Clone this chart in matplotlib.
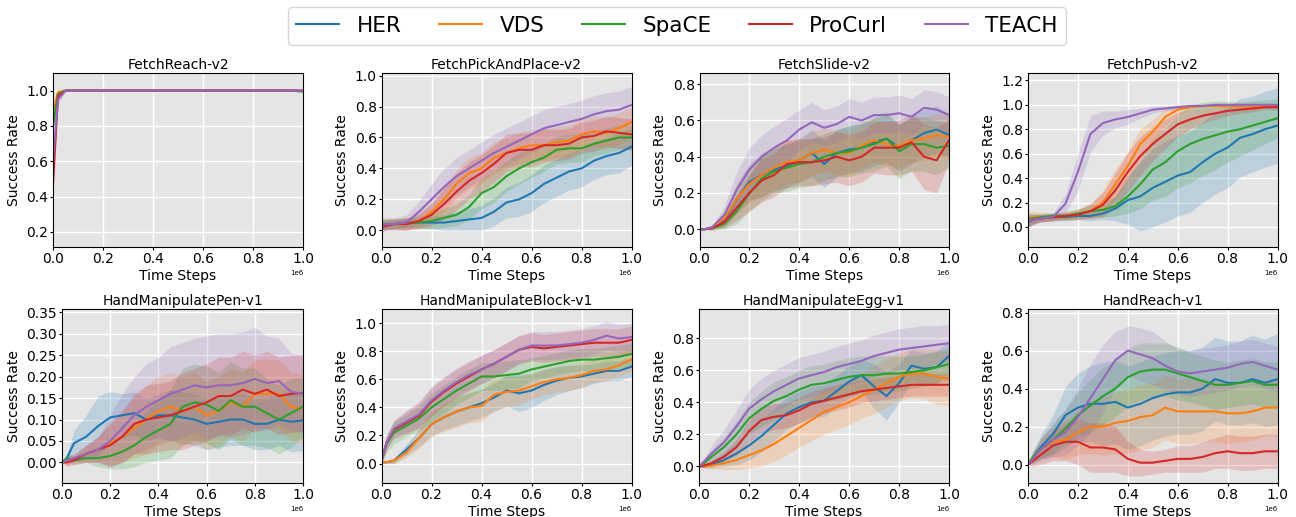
import numpy as np
import matplotlib.pyplot as plt
from matplotlib.ticker import MultipleLocator

# ------------------------------------------------------------
# data (x in units of 1e6 time steps)
# ------------------------------------------------------------
steps = [0.0, 0.02, 0.05, 0.10, 0.15, 0.20, 0.25, 0.30, 0.35, 0.40, 0.45,
         0.50, 0.55, 0.60, 0.65, 0.70, 0.75, 0.80, 0.85, 0.90, 0.95, 1.00]

methods = ['HER', 'VDS', 'SpaCE', 'ProCurl', 'TEACH']
colors = ['#1f77b4', '#ff7f0e', '#2ca02c', '#d62728', '#9467bd']

envs = ['FetchReach-v2', 'FetchPickAndPlace-v2', 'FetchSlide-v2', 'FetchPush-v2',
        'HandManipulatePen-v1', 'HandManipulateBlock-v1', 'HandManipulateEgg-v1', 'HandReach-v1']

# FetchReach-v2
reach_mean = {
    'HER':     [0.85, 0.98] + [1.0] * 20,
    'VDS':     [0.88, 0.99] + [1.0] * 20,
    'SpaCE':   [0.80, 0.98] + [1.0] * 19 + [0.995],
    'ProCurl': [0.47, 0.97] + [1.0] * 20,
    'TEACH':   [0.60, 0.95] + [1.0] * 20,
}
reach_std = {
    'HER':     [0.05, 0.02] + [0.003] * 20,
    'VDS':     [0.05, 0.02] + [0.003] * 20,
    'SpaCE':   [0.05, 0.02] + [0.003] * 20,
    'ProCurl': [0.05, 0.02] + [0.003] * 20,
    'TEACH':   [0.05, 0.03] + [0.003] * 20,
}

# FetchPickAndPlace-v2
pick_mean = {
    'HER':     [0.03, 0.04, 0.04, 0.05, 0.05, 0.05, 0.05, 0.06, 0.07, 0.08, 0.12, 0.18, 0.20, 0.24, 0.30, 0.34, 0.38, 0.40, 0.45, 0.48, 0.50, 0.54],
    'VDS':     [0.04, 0.04, 0.04, 0.04, 0.06, 0.12, 0.20, 0.30, 0.37, 0.40, 0.47, 0.50, 0.53, 0.55, 0.55, 0.57, 0.58, 0.62, 0.64, 0.63, 0.66, 0.70],
    'SpaCE':   [0.04, 0.04, 0.04, 0.045, 0.05, 0.06, 0.08, 0.10, 0.15, 0.24, 0.28, 0.35, 0.40, 0.44, 0.47, 0.52, 0.53, 0.53, 0.56, 0.58, 0.60, 0.60],
    'ProCurl': [0.02, 0.03, 0.04, 0.04, 0.06, 0.10, 0.17, 0.25, 0.32, 0.37, 0.43, 0.50, 0.52, 0.52, 0.55, 0.55, 0.56, 0.60, 0.61, 0.64, 0.63, 0.62],
    'TEACH':   [0.03, 0.04, 0.04, 0.05, 0.12, 0.20, 0.28, 0.35, 0.40, 0.45, 0.50, 0.54, 0.58, 0.62, 0.66, 0.68, 0.70, 0.72, 0.75, 0.77, 0.78, 0.81],
}
pick_std = {
    'HER':     [0.03, 0.03, 0.03, 0.03, 0.03, 0.04, 0.05, 0.06, 0.07, 0.08, 0.09, 0.10, 0.11, 0.12, 0.12, 0.12, 0.12, 0.12, 0.12, 0.12, 0.13, 0.12],
    'VDS':     [0.04, 0.04, 0.04, 0.04, 0.04, 0.06, 0.08, 0.09, 0.10, 0.10, 0.10, 0.10, 0.10, 0.10, 0.10, 0.10, 0.10, 0.10, 0.10, 0.10, 0.10, 0.10],
    'SpaCE':   [0.03, 0.03, 0.03, 0.03, 0.04, 0.05, 0.06, 0.07, 0.08, 0.10, 0.10, 0.10, 0.10, 0.10, 0.09, 0.09, 0.09, 0.09, 0.08, 0.08, 0.08, 0.08],
    'ProCurl': [0.03, 0.03, 0.03, 0.04, 0.05, 0.07, 0.10, 0.12, 0.12, 0.12, 0.12, 0.12, 0.11, 0.11, 0.11, 0.10, 0.10, 0.10, 0.10, 0.10, 0.10, 0.10],
    'TEACH':   [0.04, 0.04, 0.04, 0.05, 0.07, 0.10, 0.12, 0.12, 0.12, 0.12, 0.12, 0.12, 0.12, 0.12, 0.12, 0.12, 0.12, 0.12, 0.12, 0.12, 0.12, 0.12],
}

# FetchSlide-v2
slide_mean = {
    'HER':     [0.0, 0.0, 0.01, 0.05, 0.17, 0.26, 0.30, 0.33, 0.35, 0.38, 0.42, 0.36, 0.42, 0.44, 0.45, 0.48, 0.50, 0.45, 0.49, 0.53, 0.55, 0.52],
    'VDS':     [0.0, 0.0, 0.01, 0.06, 0.17, 0.25, 0.30, 0.34, 0.37, 0.38, 0.42, 0.44, 0.42, 0.42, 0.46, 0.49, 0.47, 0.46, 0.49, 0.50, 0.52, 0.51],
    'SpaCE':   [0.0, 0.0, 0.005, 0.03, 0.10, 0.20, 0.28, 0.32, 0.34, 0.36, 0.37, 0.40, 0.42, 0.43, 0.45, 0.47, 0.50, 0.43, 0.47, 0.47, 0.45, 0.46],
    'ProCurl': [0.0, 0.0, 0.005, 0.04, 0.12, 0.20, 0.27, 0.30, 0.36, 0.37, 0.37, 0.38, 0.40, 0.38, 0.40, 0.45, 0.45, 0.45, 0.48, 0.40, 0.38, 0.49],
    'TEACH':   [0.0, 0.0, 0.01, 0.08, 0.22, 0.33, 0.40, 0.45, 0.49, 0.55, 0.59, 0.56, 0.58, 0.62, 0.60, 0.63, 0.63, 0.64, 0.62, 0.67, 0.66, 0.63],
}
slide_std = {
    'HER':     [0.0, 0.0, 0.01, 0.04, 0.08, 0.10, 0.12, 0.12, 0.12, 0.12, 0.13, 0.13, 0.13, 0.13, 0.13, 0.13, 0.13, 0.13, 0.13, 0.13, 0.13, 0.12],
    'VDS':     [0.0, 0.0, 0.01, 0.04, 0.08, 0.10, 0.12, 0.12, 0.12, 0.12, 0.12, 0.12, 0.12, 0.12, 0.12, 0.12, 0.12, 0.12, 0.12, 0.12, 0.12, 0.12],
    'SpaCE':   [0.0, 0.0, 0.01, 0.03, 0.07, 0.10, 0.12, 0.12, 0.13, 0.13, 0.13, 0.13, 0.13, 0.14, 0.14, 0.15, 0.15, 0.15, 0.15, 0.15, 0.15, 0.12],
    'ProCurl': [0.0, 0.0, 0.01, 0.03, 0.07, 0.10, 0.12, 0.12, 0.13, 0.13, 0.13, 0.13, 0.14, 0.14, 0.14, 0.14, 0.15, 0.15, 0.16, 0.18, 0.18, 0.12],
    'TEACH':   [0.0, 0.0, 0.01, 0.05, 0.10, 0.12, 0.12, 0.12, 0.12, 0.11, 0.11, 0.10, 0.10, 0.10, 0.10, 0.10, 0.10, 0.10, 0.10, 0.10, 0.10, 0.10],
}

# FetchPush-v2
push_mean = {
    'HER':     [0.04, 0.06, 0.07, 0.08, 0.08, 0.09, 0.09, 0.11, 0.15, 0.22, 0.25, 0.32, 0.37, 0.42, 0.45, 0.53, 0.60, 0.65, 0.73, 0.76, 0.80, 0.83],
    'VDS':     [0.06, 0.08, 0.08, 0.08, 0.09, 0.10, 0.13, 0.20, 0.35, 0.50, 0.68, 0.78, 0.90, 0.96, 0.98, 0.99, 0.99, 0.99, 0.99, 0.99, 0.99, 0.99],
    'SpaCE':   [0.06, 0.07, 0.08, 0.09, 0.09, 0.11, 0.13, 0.14, 0.17, 0.25, 0.35, 0.47, 0.53, 0.62, 0.68, 0.72, 0.75, 0.78, 0.80, 0.83, 0.86, 0.89],
    'ProCurl': [0.05, 0.06, 0.07, 0.08, 0.09, 0.10, 0.13, 0.18, 0.30, 0.45, 0.58, 0.68, 0.76, 0.84, 0.88, 0.91, 0.93, 0.95, 0.96, 0.97, 0.98, 0.98],
    'TEACH':   [0.05, 0.06, 0.07, 0.08, 0.19, 0.45, 0.76, 0.85, 0.88, 0.90, 0.93, 0.96, 0.97, 0.98, 0.99, 0.99, 1.0, 1.0, 1.0, 1.0, 1.0, 1.0],
}
push_std = {
    'HER':     [0.05, 0.04, 0.03, 0.03, 0.03, 0.03, 0.04, 0.05, 0.10, 0.20, 0.28, 0.32, 0.33, 0.33, 0.33, 0.33, 0.33, 0.33, 0.32, 0.31, 0.31, 0.31],
    'VDS':     [0.06, 0.05, 0.04, 0.03, 0.03, 0.04, 0.06, 0.10, 0.12, 0.12, 0.12, 0.10, 0.07, 0.04, 0.02, 0.02, 0.01, 0.01, 0.01, 0.01, 0.01, 0.01],
    'SpaCE':   [0.05, 0.04, 0.03, 0.03, 0.03, 0.04, 0.05, 0.06, 0.08, 0.14, 0.20, 0.25, 0.28, 0.30, 0.32, 0.30, 0.28, 0.25, 0.22, 0.20, 0.18, 0.16],
    'ProCurl': [0.05, 0.04, 0.03, 0.03, 0.03, 0.04, 0.06, 0.10, 0.14, 0.16, 0.16, 0.14, 0.12, 0.10, 0.08, 0.06, 0.05, 0.04, 0.03, 0.03, 0.02, 0.02],
    'TEACH':   [0.05, 0.04, 0.03, 0.03, 0.08, 0.15, 0.15, 0.10, 0.07, 0.06, 0.04, 0.03, 0.02, 0.02, 0.01, 0.01, 0.01, 0.01, 0.01, 0.01, 0.01, 0.01],
}

# HandManipulatePen-v1
pen_mean = {
    'HER':     [0.0, 0.01, 0.045, 0.06, 0.085, 0.105, 0.11, 0.115, 0.10, 0.11, 0.11, 0.105, 0.10, 0.09, 0.095, 0.10, 0.10, 0.09, 0.09, 0.10, 0.095, 0.098],
    'VDS':     [0.0, 0.005, 0.01, 0.02, 0.03, 0.045, 0.06, 0.08, 0.10, 0.12, 0.13, 0.12, 0.13, 0.11, 0.12, 0.14, 0.13, 0.16, 0.16, 0.16, 0.13, 0.125],
    'SpaCE':   [0.0, 0.01, 0.005, 0.01, 0.01, 0.015, 0.025, 0.04, 0.06, 0.075, 0.09, 0.13, 0.14, 0.135, 0.12, 0.145, 0.13, 0.13, 0.115, 0.10, 0.115, 0.13],
    'ProCurl': [0.0, 0.0, 0.005, 0.02, 0.03, 0.04, 0.06, 0.09, 0.10, 0.105, 0.11, 0.12, 0.13, 0.14, 0.155, 0.155, 0.17, 0.16, 0.17, 0.155, 0.16, 0.162],
    'TEACH':   [0.0, 0.005, 0.01, 0.02, 0.03, 0.05, 0.08, 0.11, 0.13, 0.145, 0.16, 0.17, 0.18, 0.175, 0.18, 0.18, 0.185, 0.195, 0.185, 0.19, 0.165, 0.16],
}
pen_std = {
    'HER':     [0.0, 0.01, 0.03, 0.05, 0.07, 0.06, 0.05, 0.05, 0.05, 0.05, 0.06, 0.06, 0.06, 0.06, 0.06, 0.06, 0.06, 0.06, 0.06, 0.06, 0.07, 0.07],
    'VDS':     [0.0, 0.01, 0.01, 0.02, 0.03, 0.05, 0.06, 0.07, 0.08, 0.08, 0.08, 0.08, 0.08, 0.08, 0.08, 0.08, 0.08, 0.08, 0.08, 0.08, 0.08, 0.08],
    'SpaCE':   [0.0, 0.01, 0.01, 0.01, 0.02, 0.03, 0.04, 0.05, 0.06, 0.07, 0.08, 0.09, 0.09, 0.09, 0.09, 0.09, 0.09, 0.09, 0.08, 0.08, 0.08, 0.07],
    'ProCurl': [0.0, 0.01, 0.01, 0.02, 0.03, 0.05, 0.06, 0.07, 0.08, 0.08, 0.08, 0.09, 0.09, 0.09, 0.09, 0.09, 0.09, 0.09, 0.09, 0.09, 0.09, 0.09],
    'TEACH':   [0.0, 0.01, 0.01, 0.02, 0.03, 0.06, 0.08, 0.09, 0.10, 0.10, 0.11, 0.11, 0.11, 0.12, 0.12, 0.12, 0.12, 0.12, 0.11, 0.10, 0.09, 0.09],
}

# HandManipulateBlock-v1
block_mean = {
    'HER':     [0.01, 0.01, 0.02, 0.10, 0.18, 0.28, 0.33, 0.37, 0.40, 0.43, 0.47, 0.52, 0.50, 0.52, 0.56, 0.59, 0.61, 0.62, 0.64, 0.66, 0.66, 0.69],
    'VDS':     [0.01, 0.01, 0.02, 0.08, 0.18, 0.28, 0.33, 0.37, 0.40, 0.41, 0.49, 0.51, 0.52, 0.55, 0.58, 0.60, 0.61, 0.63, 0.66, 0.67, 0.70, 0.74],
    'SpaCE':   [0.02, 0.14, 0.22, 0.27, 0.32, 0.40, 0.46, 0.52, 0.57, 0.62, 0.62, 0.63, 0.64, 0.67, 0.69, 0.71, 0.73, 0.74, 0.74, 0.75, 0.76, 0.78],
    'ProCurl': [0.02, 0.15, 0.24, 0.29, 0.34, 0.44, 0.51, 0.57, 0.62, 0.67, 0.71, 0.76, 0.81, 0.83, 0.82, 0.83, 0.84, 0.85, 0.86, 0.86, 0.86, 0.88],
    'TEACH':   [0.02, 0.15, 0.25, 0.30, 0.35, 0.45, 0.52, 0.58, 0.63, 0.67, 0.71, 0.76, 0.81, 0.84, 0.84, 0.84, 0.85, 0.86, 0.88, 0.91, 0.89, 0.90],
}
block_std = {
    'HER':     [0.01, 0.01, 0.02, 0.04, 0.06, 0.08, 0.09, 0.10, 0.10, 0.10, 0.10, 0.11, 0.13, 0.12, 0.11, 0.10, 0.09, 0.08, 0.07, 0.07, 0.07, 0.07],
    'VDS':     [0.01, 0.01, 0.02, 0.04, 0.07, 0.09, 0.10, 0.11, 0.11, 0.11, 0.11, 0.11, 0.10, 0.09, 0.09, 0.09, 0.09, 0.09, 0.08, 0.08, 0.08, 0.08],
    'SpaCE':   [0.02, 0.06, 0.08, 0.08, 0.09, 0.10, 0.10, 0.10, 0.10, 0.10, 0.10, 0.10, 0.10, 0.08, 0.08, 0.08, 0.08, 0.08, 0.08, 0.08, 0.08, 0.08],
    'ProCurl': [0.02, 0.05, 0.06, 0.08, 0.09, 0.10, 0.10, 0.10, 0.10, 0.10, 0.10, 0.10, 0.10, 0.10, 0.10, 0.10, 0.10, 0.10, 0.10, 0.10, 0.10, 0.10],
    'TEACH':   [0.02, 0.05, 0.06, 0.08, 0.09, 0.10, 0.10, 0.10, 0.10, 0.10, 0.10, 0.10, 0.10, 0.10, 0.10, 0.10, 0.10, 0.10, 0.10, 0.10, 0.10, 0.10],
}

# HandManipulateEgg-v1
egg_mean = {
    'HER':     [0.0, 0.0, 0.01, 0.04, 0.08, 0.13, 0.19, 0.26, 0.33, 0.37, 0.40, 0.41, 0.47, 0.53, 0.57, 0.50, 0.44, 0.52, 0.63, 0.61, 0.62, 0.69],
    'VDS':     [0.0, 0.0, 0.005, 0.02, 0.04, 0.07, 0.10, 0.14, 0.19, 0.24, 0.29, 0.34, 0.37, 0.40, 0.44, 0.48, 0.52, 0.56, 0.58, 0.58, 0.56, 0.55],
    'SpaCE':   [0.0, 0.02, 0.06, 0.12, 0.20, 0.30, 0.36, 0.41, 0.44, 0.48, 0.51, 0.52, 0.54, 0.56, 0.57, 0.57, 0.58, 0.58, 0.59, 0.60, 0.62, 0.64],
    'ProCurl': [0.0, 0.005, 0.02, 0.06, 0.12, 0.22, 0.29, 0.31, 0.32, 0.35, 0.39, 0.41, 0.43, 0.45, 0.47, 0.48, 0.49, 0.50, 0.51, 0.51, 0.51, 0.51],
    'TEACH':   [0.0, 0.03, 0.08, 0.15, 0.25, 0.36, 0.42, 0.47, 0.51, 0.55, 0.57, 0.59, 0.62, 0.64, 0.66, 0.69, 0.71, 0.73, 0.74, 0.75, 0.76, 0.77],
}
egg_std = {
    'HER':     [0.0, 0.01, 0.02, 0.04, 0.07, 0.09, 0.10, 0.10, 0.10, 0.10, 0.10, 0.10, 0.10, 0.10, 0.10, 0.14, 0.15, 0.12, 0.10, 0.10, 0.10, 0.10],
    'VDS':     [0.0, 0.01, 0.02, 0.04, 0.06, 0.08, 0.10, 0.11, 0.12, 0.12, 0.13, 0.14, 0.14, 0.14, 0.14, 0.15, 0.15, 0.15, 0.15, 0.16, 0.17, 0.17],
    'SpaCE':   [0.0, 0.02, 0.04, 0.06, 0.08, 0.10, 0.11, 0.12, 0.12, 0.12, 0.12, 0.12, 0.12, 0.12, 0.12, 0.12, 0.11, 0.11, 0.10, 0.10, 0.10, 0.10],
    'ProCurl': [0.0, 0.01, 0.02, 0.03, 0.05, 0.07, 0.08, 0.08, 0.08, 0.08, 0.08, 0.08, 0.08, 0.08, 0.07, 0.07, 0.07, 0.07, 0.07, 0.07, 0.07, 0.07],
    'TEACH':   [0.0, 0.02, 0.05, 0.08, 0.10, 0.12, 0.13, 0.13, 0.13, 0.13, 0.13, 0.13, 0.13, 0.13, 0.13, 0.13, 0.13, 0.13, 0.13, 0.13, 0.12, 0.12],
}

# HandReach-v1
hreach_mean = {
    'HER':     [0.0, 0.04, 0.09, 0.16, 0.26, 0.30, 0.32, 0.32, 0.33, 0.30, 0.32, 0.35, 0.37, 0.38, 0.38, 0.40, 0.45, 0.43, 0.43, 0.45, 0.43, 0.45],
    'VDS':     [0.0, 0.04, 0.08, 0.12, 0.13, 0.17, 0.20, 0.20, 0.22, 0.23, 0.25, 0.26, 0.30, 0.28, 0.28, 0.28, 0.28, 0.27, 0.27, 0.28, 0.30, 0.30],
    'SpaCE':   [0.0, 0.04, 0.08, 0.13, 0.19, 0.26, 0.31, 0.36, 0.40, 0.46, 0.49, 0.50, 0.50, 0.48, 0.46, 0.44, 0.42, 0.42, 0.43, 0.44, 0.42, 0.42],
    'ProCurl': [0.0, 0.02, 0.05, 0.10, 0.12, 0.12, 0.09, 0.09, 0.08, 0.03, 0.01, 0.01, 0.02, 0.03, 0.03, 0.04, 0.06, 0.07, 0.06, 0.06, 0.07, 0.07],
    'TEACH':   [0.0, 0.03, 0.08, 0.13, 0.17, 0.25, 0.35, 0.45, 0.55, 0.60, 0.58, 0.56, 0.52, 0.49, 0.48, 0.49, 0.50, 0.51, 0.53, 0.54, 0.52, 0.50],
}
hreach_std = {
    'HER':     [0.0, 0.03, 0.06, 0.10, 0.15, 0.18, 0.20, 0.22, 0.22, 0.22, 0.22, 0.22, 0.22, 0.22, 0.22, 0.22, 0.22, 0.22, 0.22, 0.23, 0.23, 0.24],
    'VDS':     [0.0, 0.03, 0.05, 0.08, 0.10, 0.12, 0.14, 0.15, 0.16, 0.17, 0.17, 0.17, 0.17, 0.17, 0.17, 0.16, 0.16, 0.16, 0.15, 0.15, 0.15, 0.15],
    'SpaCE':   [0.0, 0.03, 0.05, 0.08, 0.10, 0.12, 0.14, 0.15, 0.15, 0.15, 0.15, 0.14, 0.14, 0.14, 0.13, 0.13, 0.13, 0.12, 0.12, 0.12, 0.12, 0.12],
    'ProCurl': [0.0, 0.03, 0.05, 0.08, 0.10, 0.12, 0.13, 0.13, 0.12, 0.09, 0.07, 0.06, 0.06, 0.07, 0.07, 0.08, 0.08, 0.09, 0.09, 0.09, 0.09, 0.09],
    'TEACH':   [0.0, 0.03, 0.06, 0.09, 0.12, 0.15, 0.18, 0.18, 0.15, 0.13, 0.14, 0.14, 0.13, 0.12, 0.12, 0.12, 0.12, 0.12, 0.12, 0.12, 0.12, 0.12],
}

all_means = [reach_mean, pick_mean, slide_mean, push_mean, pen_mean, block_mean, egg_mean, hreach_mean]
all_stds = [reach_std, pick_std, slide_std, push_std, pen_std, block_std, egg_std, hreach_std]
ylims = [(0.115, 1.10), (-0.108, 1.017), (-0.098, 0.862), (-0.164, 1.26),
         (-0.048, 0.358), (-0.138, 1.10), (-0.104, 0.984), (-0.097, 0.819)]
ysteps = [0.2, 0.2, 0.2, 0.2, 0.05, 0.2, 0.2, 0.2]

# ------------------------------------------------------------
# figure
# ------------------------------------------------------------
W, H = 1296, 517
fig = plt.figure(figsize=(W / 100, H / 100), dpi=100)

# axes boxes in pixels: (left, right), rows (top, bottom)
cols_top = [(53, 303), (381.5, 631.5), (699.5, 949), (1028, 1277.5)]
cols_bot = [(62, 303), (381.5, 631.5), (699, 949), (1028, 1277.5)]
rows = [(73, 247), (309, 483)]

x = np.array(steps) * 1e6
handles = []
for i, env in enumerate(envs):
    r = i // 4
    l, rr = (cols_top if r == 0 else cols_bot)[i % 4]
    t, b = rows[r]
    ax = fig.add_axes([l / W, 1 - b / H, (rr - l) / W, (b - t) / H])
    ax.set_facecolor('#e5e5e5')
    ax.set_axisbelow(True)
    ax.grid(True, color='white', linewidth=1.0)

    for m, c in zip(methods, colors):
        mu = np.array(all_means[i][m])
        sd = np.array(all_stds[i][m])
        ax.fill_between(x, mu - sd, mu + sd, color=c, alpha=0.2, linewidth=0)
        line, = ax.plot(x, mu, color=c, linewidth=1.5, label=m)
        if i == 0:
            handles.append(line)

    ax.set_xlim(0, 1e6)
    ax.set_ylim(*ylims[i])
    ax.yaxis.set_major_locator(MultipleLocator(ysteps[i]))
    ax.xaxis.set_major_locator(MultipleLocator(0.2e6))
    ax.set_title(env, fontsize=10, pad=3)
    ax.set_xlabel('Time Steps', fontsize=10, labelpad=2)
    ax.set_ylabel('Success Rate', fontsize=10, labelpad=4)
    ax.tick_params(labelsize=10, length=2, pad=1.5)
    ax.xaxis.get_offset_text().set_fontsize(5)

fig.legend(handles, methods, loc='center', ncol=5,
           bbox_to_anchor=(677 / W, 1 - 26 / H),
           prop={'family': 'DejaVu Sans', 'size': 15.5},
           handlelength=2.0, handletextpad=0.8, columnspacing=1.75,
           frameon=True, edgecolor='#cccccc', fancybox=True)

plt.savefig('out.png', dpi=100)
